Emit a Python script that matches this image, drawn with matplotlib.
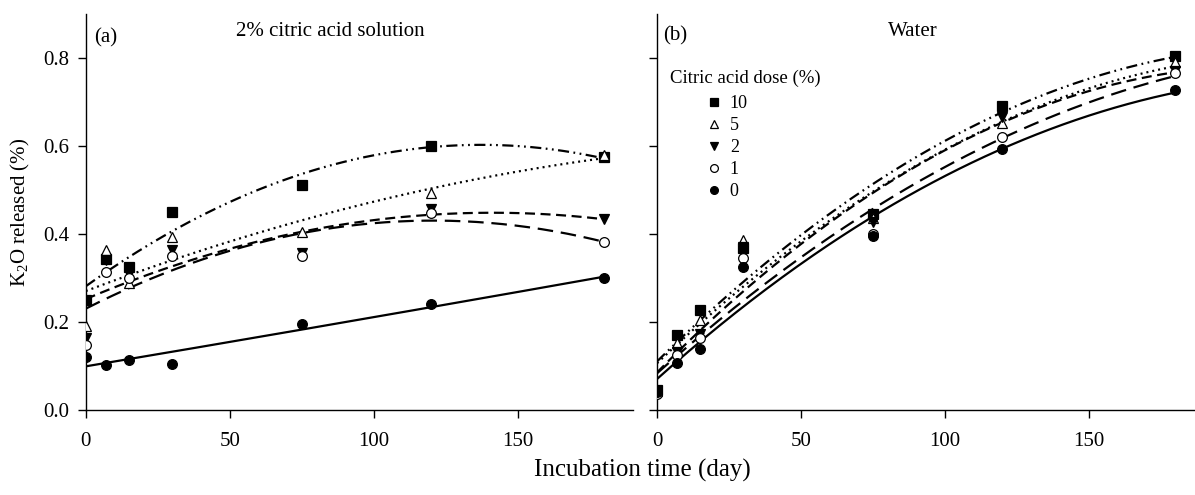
import numpy as np
import matplotlib
matplotlib.use("Agg")
import matplotlib.pyplot as plt

plt.rcParams['font.family'] = ['Liberation Serif', 'DejaVu Serif']
plt.rcParams['mathtext.fontset'] = 'custom'
plt.rcParams['mathtext.rm'] = 'Liberation Serif'
plt.rcParams['mathtext.it'] = 'Liberation Serif:italic'

days = [0, 7, 15, 30, 75, 120, 180]
doses = ['10', '5', '2', '1', '0']

# (a) 2% citric acid solution
citric_10 = [0.249, 0.344, 0.325, 0.451, 0.512, 0.599, 0.574]
citric_5 = [0.190, 0.363, 0.288, 0.393, 0.404, 0.494, 0.580]
citric_2 = [0.163, 0.340, 0.310, 0.363, 0.356, 0.457, 0.435]
citric_1 = [0.147, 0.314, 0.300, 0.351, 0.350, 0.448, 0.382]
citric_0 = [0.121, 0.102, 0.113, 0.104, 0.195, 0.240, 0.299]

# (b) Water
water_10 = [0.045, 0.170, 0.227, 0.368, 0.446, 0.692, 0.805]
water_5 = [0.044, 0.153, 0.204, 0.386, 0.436, 0.652, 0.790]
water_2 = [0.043, 0.132, 0.172, 0.370, 0.428, 0.665, 0.771]
water_1 = [0.037, 0.125, 0.164, 0.346, 0.400, 0.620, 0.765]
water_0 = [0.042, 0.106, 0.138, 0.325, 0.395, 0.593, 0.727]

markers = {'10': dict(marker='s', mfc='black', mec='black'),
           '5': dict(marker='^', mfc='white', mec='black'),
           '2': dict(marker='v', mfc='black', mec='black'),
           '1': dict(marker='o', mfc='white', mec='black'),
           '0': dict(marker='o', mfc='black', mec='black')}
dashes = {'10': (5, 2, 0.8, 2, 0.8, 2), '5': (0.9, 1.8), '2': (4.5, 2.5),
          '1': (7, 3.5), '0': None}

fig = plt.figure(figsize=(11.95, 4.95), dpi=100)
W, H = 1195, 495
axa = fig.add_axes([85.8 / W, 1 - 410 / H, (633 - 85.8) / W, (410 - 14) / H])
axb = fig.add_axes([657 / W, 1 - 410 / H, (1195 - 657) / W, (410 - 14) / H])

xs = np.linspace(0, 180, 200)
for ax, series in ((axa, [citric_10, citric_5, citric_2, citric_1, citric_0]),
                   (axb, [water_10, water_5, water_2, water_1, water_0])):
    for d, vals in zip(doses, series):
        coef = np.polyfit(days, vals, 2)
        kw = dict(color='black', lw=1.6)
        if dashes[d] is not None:
            ln, = ax.plot(xs, np.polyval(coef, xs), **kw)
            ln.set_dashes(dashes[d])
        else:
            ax.plot(xs, np.polyval(coef, xs), **kw)
    for d, vals in zip(doses, series):
        ax.plot(days, vals, ls='none', ms=7, mew=0.9, zorder=3, **markers[d],
                label=d)
    ax.set_ylim(0, 0.9)
    ax.set_yticks([0, 0.2, 0.4, 0.6, 0.8])
    ax.set_xticks([0, 50, 100, 150])
    ax.spines['top'].set_visible(False)
    ax.spines['right'].set_visible(False)
    ax.tick_params(direction='out', length=6, width=1, labelsize=15)
    ax.tick_params(axis='y', pad=6)
    ax.tick_params(axis='x', pad=10)
    for s in ('left', 'bottom'):
        ax.spines[s].set_linewidth(1)

axa.set_xlim(0, 190)
axb.set_xlim(0, 187)
axa.set_yticklabels(['0.0', '0.2', '0.4', '0.6', '0.8'])
axb.set_yticklabels([])
axa.set_ylabel(r'K$_2$O released (%)', fontsize=15, labelpad=8)

axa.text(0.015, 0.939, '(a)', transform=axa.transAxes, fontsize=15, va='center')
axa.text(0.446, 0.955, '2% citric acid solution', transform=axa.transAxes,
         fontsize=15, ha='center', va='center')
axb.text(0.011, 0.945, '(b)', transform=axb.transAxes, fontsize=15, va='center')
axb.text(0.476, 0.955, 'Water', transform=axb.transAxes, fontsize=15,
         ha='center', va='center')

axb.text(0.024, 0.838, 'Citric acid dose (%)', transform=axb.transAxes,
         fontsize=13.5, ha='left', va='center')
leg = axb.legend(loc='upper left', bbox_to_anchor=(0.0898, 0.795),
                 frameon=False, fontsize=13, borderpad=0, borderaxespad=0,
                 handletextpad=0.36, labelspacing=0.28, handlelength=1.0,
                 markerscale=0.8)

fig.text(642 / W, 1 - 470 / H, 'Incubation time (day)', ha='center',
         va='center', fontsize=18)

fig.savefig('out.png', dpi=100)
